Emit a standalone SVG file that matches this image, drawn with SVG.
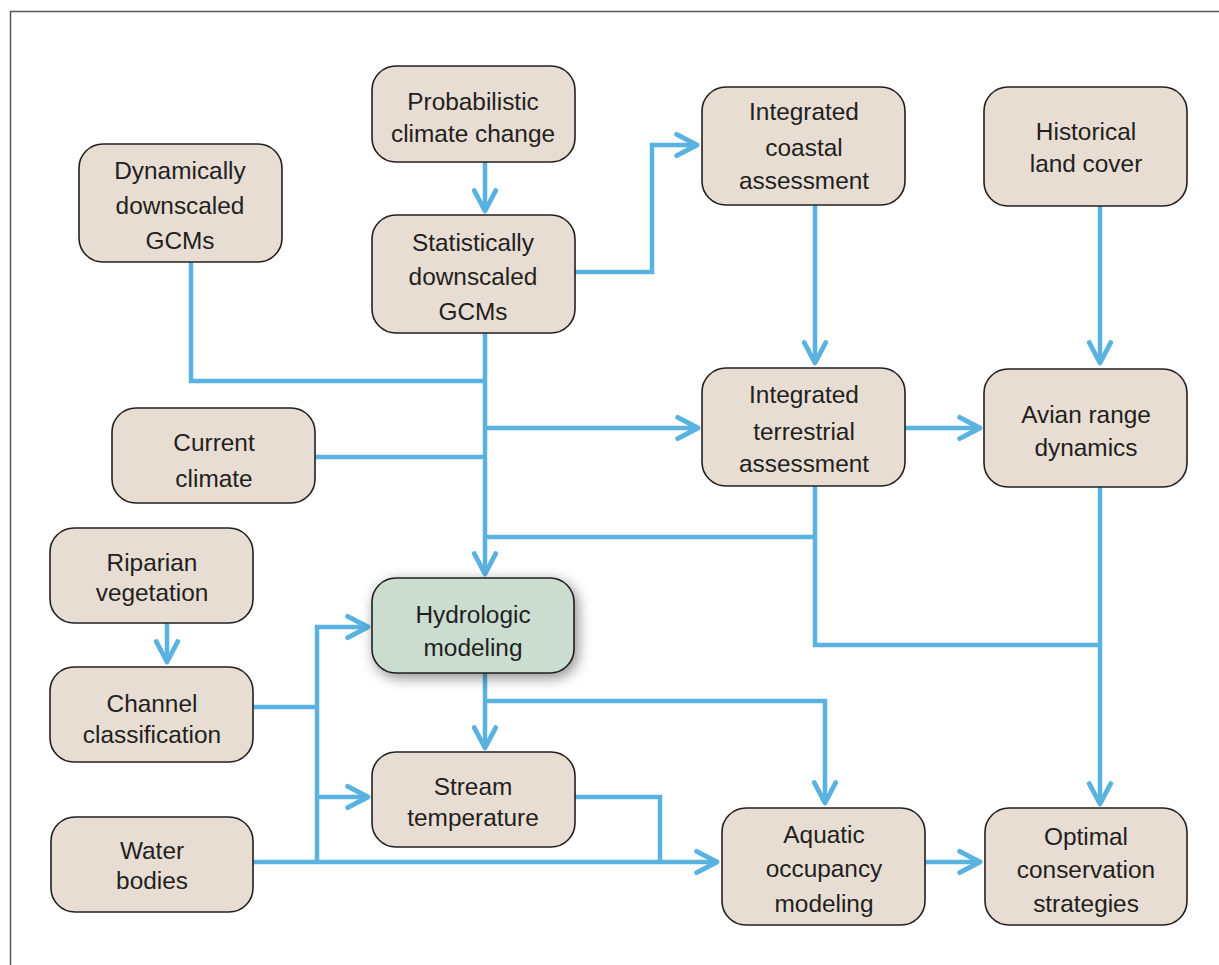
<svg xmlns="http://www.w3.org/2000/svg" width="1219" height="965" viewBox="0 0 1219 965">
<defs>
<style>
.n rect{fill:#e8ddd2;stroke:#231f20;stroke-width:1.6}
.n.h rect{fill:#cbdcd0}
.n text{font-family:"Liberation Sans",Arial,sans-serif;font-size:24.4px;fill:#231f20;text-anchor:middle}
#connectors path{fill:none;stroke:#5ab2e1;stroke-width:4.5;stroke-linejoin:miter}
#connectors path.a{marker-end:url(#ah)}
</style>
<marker id="ah" markerUnits="userSpaceOnUse" markerWidth="30" markerHeight="30" viewBox="-24 -14 28 28" refX="0" refY="0" orient="auto">
<path d="M-19,-10 L0,0 L-19,10" fill="none" stroke="#5ab2e1" stroke-width="4.5" stroke-linecap="round" stroke-linejoin="round"/>
</marker>
<filter id="sh" x="-30%" y="-30%" width="160%" height="160%">
<feDropShadow dx="3" dy="4" stdDeviation="7" flood-color="#000" flood-opacity="0.45"/>
</filter>
</defs>
<rect width="1219" height="965" fill="#fff"/>
<path d="M10.5,965 V11.5 H1219" fill="none" stroke="#555" stroke-width="1.5"/>

<g id="connectors">
<path class="a" d="M485,162 V211"/>
<path class="a" d="M575,272 H652 V145 H697"/>
<path class="a" d="M485,333 V574"/>
<path d="M191,262 V381 H485"/>
<path d="M315,457 H485"/>
<path class="a" d="M485,428 H698"/>
<path d="M485,537 H815"/>
<path d="M815,486 V645 H1100"/>
<path class="a" d="M1100,487 V804"/>
<path class="a" d="M815,205 V363"/>
<path class="a" d="M1100,206 V363"/>
<path class="a" d="M905,428 H980"/>
<path class="a" d="M167,623 V662"/>
<path d="M253,707 H317"/>
<path class="a" d="M317,862 V627 H368"/>
<path class="a" d="M317,797 H368"/>
<path class="a" d="M253,862 H717"/>
<path d="M575,797 H660 V862"/>
<path class="a" d="M485,673 V748"/>
<path class="a" d="M485,701 H825 V803"/>
<path class="a" d="M925,862 H980"/>
</g>

<g id="n-prob" class="n"><rect x="372" y="66" width="203" height="96" rx="24"/>
<text x="473" y="110">Probabilistic</text><text x="473" y="142">climate change</text></g>
<g id="n-stat" class="n"><rect x="372" y="215" width="203" height="118" rx="24"/>
<text x="473" y="251">Statistically</text><text x="473" y="285">downscaled</text><text x="473" y="320">GCMs</text></g>
<g id="n-dyn" class="n"><rect x="79" y="144" width="203" height="118" rx="24"/>
<text x="180" y="179">Dynamically</text><text x="180" y="214">downscaled</text><text x="180" y="249">GCMs</text></g>
<g id="n-coast" class="n"><rect x="702" y="87" width="203" height="118" rx="24"/>
<text x="804" y="120">Integrated</text><text x="804" y="156">coastal</text><text x="804" y="189">assessment</text></g>
<g id="n-hist" class="n"><rect x="984" y="87" width="203" height="119" rx="24"/>
<text x="1086" y="140">Historical</text><text x="1086" y="172">land cover</text></g>
<g id="n-terr" class="n"><rect x="702" y="368" width="203" height="118" rx="24"/>
<text x="804" y="403">Integrated</text><text x="804" y="440">terrestrial</text><text x="804" y="472">assessment</text></g>
<g id="n-avian" class="n"><rect x="984" y="369" width="203" height="118" rx="24"/>
<text x="1086" y="423">Avian range</text><text x="1086" y="456">dynamics</text></g>
<g id="n-current" class="n"><rect x="112" y="408" width="203" height="95" rx="24"/>
<text x="214" y="451">Current</text><text x="214" y="487">climate</text></g>
<g id="n-ripar" class="n"><rect x="50" y="528" width="203" height="95" rx="24"/>
<text x="152" y="571">Riparian</text><text x="152" y="601">vegetation</text></g>
<g id="n-chan" class="n"><rect x="50" y="667" width="203" height="95" rx="24"/>
<text x="152" y="712">Channel</text><text x="152" y="743">classification</text></g>
<g id="n-water" class="n"><rect x="51" y="817" width="202" height="95" rx="24"/>
<text x="152" y="859">Water</text><text x="152" y="889">bodies</text></g>
<g id="n-hydro" class="n h"><rect x="372" y="578" width="202" height="95" rx="24" filter="url(#sh)"/>
<text x="473" y="623">Hydrologic</text><text x="473" y="656">modeling</text></g>
<g id="n-stream" class="n"><rect x="372" y="752" width="203" height="95" rx="24"/>
<text x="473" y="795">Stream</text><text x="473" y="826">temperature</text></g>
<g id="n-aquatic" class="n"><rect x="722" y="808" width="203" height="117" rx="24"/>
<text x="824" y="843">Aquatic</text><text x="824" y="877">occupancy</text><text x="824" y="912">modeling</text></g>
<g id="n-optimal" class="n"><rect x="985" y="808" width="202" height="117" rx="24"/>
<text x="1086" y="845">Optimal</text><text x="1086" y="878">conservation</text><text x="1086" y="912">strategies</text></g>
</svg>
